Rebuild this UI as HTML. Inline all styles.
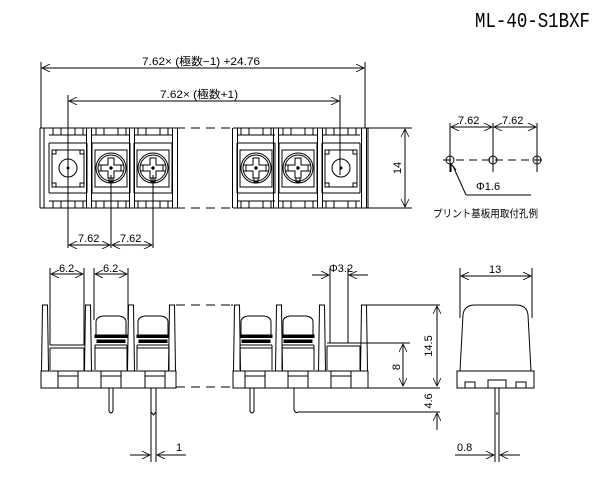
<!DOCTYPE html>
<html><head><meta charset="utf-8"><style>
html,body{margin:0;padding:0;background:#fff;width:600px;height:487px;overflow:hidden}
svg text{font-family:"Liberation Sans","Noto Sans CJK JP",sans-serif;fill:#000}
</style></head><body>
<svg width="600" height="487" viewBox="0 0 600 487" xmlns="http://www.w3.org/2000/svg">
<defs>
<marker id="a" viewBox="0 0 10 10" refX="10" refY="5" markerWidth="10" markerHeight="8" orient="auto-start-reverse" markerUnits="userSpaceOnUse"><path d="M0,0 L10,5 L0,10" fill="none" stroke="#000" stroke-width="1"/></marker>
<g id="sc">
<rect x="-16" y="150" width="32" height="37" fill="none"/>
<circle cx="0" cy="168" r="15" fill="none"/>
<circle cx="0" cy="168" r="13" fill="none"/>
<path d="M-13,165 H13 M-13,171 H13" fill="none"/>
<path d="M-3,158 H3 V165 H10 V171 H3 V178 H-3 V171 H-10 V165 H-3 Z" fill="#fff"/>
<circle cx="0" cy="168" r="1.2" fill="#000"/>
<path d="M-2,178 V182 H2 V178" fill="none"/>
</g>
<g id="mh">
<rect x="-16" y="150" width="32" height="37" fill="none"/>
<path d="M-16,154 h4 v-4 M16,154 h-4 v-4 M-16,183 h4 v4 M16,183 h-4 v4" fill="none"/>
<circle cx="0" cy="168" r="9" fill="none"/>
<circle cx="0" cy="168" r="1" fill="#000"/>
</g>
<g id="sep">
<path d="M-2.5,128 V208 M2.5,128 V208"/>
</g>
<g id="cellT">
<path d="M-19,135 H19 M-19,143 H19 M-19,193 H19 M-19,201 H19 M-15,128 V135 M-7,128 V135 M7,128 V135 M15,128 V135 M-15,201 V208 M-7,201 V208 M7,201 V208 M15,201 V208 M-19,143 V193 M19,143 V193" fill="none"/>
</g>
<g id="sscr">
<path d="M-15,335 V322 Q-15,317 -8,316 H8 Q15,317 15,322 V335 Z" fill="#fff"/>
<rect x="-16" y="335" width="32" height="2.5" fill="#000"/>
<rect x="-14" y="340" width="28" height="2.5" fill="#000"/>
<path d="M-16,345 H16 M-16,348 H16 M-16,345 V370 M16,345 V370" fill="none"/>
</g>
<g id="post"><path d="M-3.5,371 L-2.5,305 H2.5 L3.5,371" fill="none"/></g>
</defs>

<text x="475" y="27" style="font-family:'Liberation Mono',monospace;font-size:21px" textLength="115" lengthAdjust="spacingAndGlyphs">ML-40-S1BXF</text>

<g stroke="#000" stroke-width="1" fill="none">
<line x1="41" y1="62" x2="41" y2="128"/><line x1="365" y1="62" x2="365" y2="128"/>
<line x1="42" y1="68" x2="364" y2="68" marker-start="url(#a)" marker-end="url(#a)"/>
<line x1="68" y1="95" x2="68" y2="175"/><line x1="340" y1="95" x2="340" y2="175"/>
<line x1="69" y1="101" x2="339" y2="101" marker-start="url(#a)" marker-end="url(#a)"/>

<path d="M40,128 H176 M40,208 H176 M40,128 V208 M44,128 V208"/>
<path d="M176,128 H233 M176,208 H233" stroke-dasharray="9,6"/>
<path d="M233,128 H368 M233,208 H368"/>
<use href="#sep" x="89"/><use href="#sep" x="132"/><use href="#sep" x="175"/>
<use href="#sep" x="235"/><use href="#sep" x="276"/><use href="#sep" x="320"/><use href="#sep" x="364"/>
<use href="#cellT" x="68"/><use href="#cellT" x="111"/><use href="#cellT" x="153"/>
<use href="#cellT" x="256"/><use href="#cellT" x="298"/><use href="#cellT" x="341"/>
<use href="#mh" x="68"/><use href="#sc" x="111"/><use href="#sc" x="153"/>
<use href="#sc" x="256"/><use href="#sc" x="298"/><use href="#mh" x="341"/>
<line x1="368" y1="128" x2="368" y2="208"/>
<line x1="368" y1="128" x2="412" y2="128"/><line x1="368" y1="208" x2="412" y2="208"/>
<line x1="405" y1="129" x2="405" y2="207" marker-start="url(#a)" marker-end="url(#a)"/>
<line x1="111" y1="175" x2="111" y2="248"/><line x1="153" y1="175" x2="153" y2="248"/><line x1="68" y1="175" x2="68" y2="248"/>
<line x1="69" y1="245" x2="110" y2="245" marker-start="url(#a)" marker-end="url(#a)"/>
<line x1="112" y1="245" x2="152" y2="245" marker-start="url(#a)" marker-end="url(#a)"/>

<line x1="450" y1="123" x2="450" y2="172"/><line x1="493" y1="123" x2="493" y2="172"/><line x1="537" y1="123" x2="537" y2="172"/>
<line x1="451" y1="127" x2="492" y2="127" marker-start="url(#a)" marker-end="url(#a)"/>
<line x1="494" y1="127" x2="536" y2="127" marker-start="url(#a)" marker-end="url(#a)"/>
<line x1="443" y1="160" x2="544" y2="160" stroke-dasharray="8,5"/>
<circle cx="450" cy="160" r="4"/><circle cx="493" cy="160" r="4"/><circle cx="537" cy="160" r="4"/>
<path d="M466,195 L453,166 M531,195 H466"/>
<path d="M451,164 l0,8 M451,164 l5,6" />

<line x1="50" y1="268" x2="50" y2="345"/><line x1="84" y1="268" x2="84" y2="345"/>
<line x1="51" y1="274" x2="83" y2="274" marker-start="url(#a)" marker-end="url(#a)"/>
<line x1="94" y1="268" x2="94" y2="320"/><line x1="128" y1="268" x2="128" y2="320"/>
<line x1="95" y1="274" x2="127" y2="274" marker-start="url(#a)" marker-end="url(#a)"/>
<use href="#post" x="45"/><use href="#post" x="88"/><use href="#post" x="131"/><use href="#post" x="172"/>
<path d="M176,305 H233 M176,387 H233" stroke-dasharray="9,6"/>
<path d="M50,345 H84 M50,348 H84 M50,348 V370 M84,348 V370"/>
<use href="#sscr" x="111"/><use href="#sscr" x="153"/>
<rect x="41" y="371" width="135" height="17"/>
<rect x="58" y="376" width="20" height="12"/><rect x="101" y="376" width="20" height="12"/><rect x="145" y="376" width="20" height="12"/>
<path d="M58,371 V376 M78,371 V376 M101,371 V376 M121,371 V376 M145,371 V376 M165,371 V376"/>
<path d="M109,388 V411 Q111,415 113,411 V388"/>
<path d="M151,388 V462 M156,388 V462 M151,412 L153.5,415 L156,412"/>
<line x1="130" y1="455" x2="150" y2="455" marker-end="url(#a)"/>
<line x1="180" y1="455" x2="157" y2="455" marker-end="url(#a)"/>
<line x1="180" y1="455" x2="186" y2="455"/>

<use href="#post" x="237"/><use href="#post" x="279"/><use href="#post" x="322"/><use href="#post" x="364"/>
<path d="M231,305 H233 M367,305 H440"/>
<use href="#sscr" x="256"/><use href="#sscr" x="298"/>
<path d="M327,343 H360 M327,346 H360 M327,346 V370 M360,346 V370 M360,343 H410"/>
<line x1="330" y1="268" x2="330" y2="343"/><line x1="348" y1="268" x2="348" y2="343"/>
<line x1="312" y1="275" x2="329" y2="275" marker-end="url(#a)"/>
<line x1="368" y1="275" x2="349" y2="275" marker-end="url(#a)"/>
<rect x="233" y="371" width="135" height="17"/>
<rect x="245" y="376" width="20" height="12"/><rect x="288" y="376" width="20" height="12"/><rect x="331" y="376" width="20" height="12"/>
<path d="M245,371 V376 M265,371 V376 M288,371 V376 M308,371 V376 M331,371 V376 M351,371 V376"/>
<path d="M250,388 V411 Q252,415 254,411 V388"/>
<path d="M294,388 V410 Q296,414 298,412 H440"/>
<path d="M368,388 H440"/>
<line x1="437" y1="306" x2="437" y2="386" marker-start="url(#a)" marker-end="url(#a)"/>
<line x1="403" y1="344" x2="403" y2="386" marker-start="url(#a)" marker-end="url(#a)"/>
<line x1="437" y1="430" x2="437" y2="413" marker-end="url(#a)"/>

<path d="M460,371 L463,315 Q464,305 475,305 H516 Q527,305 528,315 L531,371 Z"/>
<rect x="457" y="371" width="77" height="17"/>
<path d="M465,388 V382 H475 V388 M516,388 V382 H526 V388"/>
<rect x="488" y="380" width="18" height="8"/>
<line x1="460" y1="268" x2="460" y2="318"/><line x1="532" y1="268" x2="532" y2="318"/>
<line x1="461" y1="276" x2="531" y2="276" marker-start="url(#a)" marker-end="url(#a)"/>
<path d="M495,388 V462 M499,388 V462 M497,412 V415"/>
<line x1="455" y1="455" x2="494" y2="455" marker-end="url(#a)"/>
<line x1="520" y1="455" x2="500" y2="455" marker-end="url(#a)"/>
</g>

<g style="font-size:11px">
<text x="142" y="65" textLength="118" lengthAdjust="spacingAndGlyphs">7.62× (極数−1) +24.76</text>
<text x="160" y="98" textLength="78" lengthAdjust="spacingAndGlyphs">7.62× (極数+1)</text>
<text x="78" y="242">7.62</text><text x="120" y="242">7.62</text>
<text x="458" y="124">7.62</text><text x="502" y="124">7.62</text>
<text x="476" y="190">Φ1.6</text>
<text x="433" y="217" style="font-size:10.5px" textLength="105" lengthAdjust="spacingAndGlyphs">プリント基板用取付孔例</text>
<text x="59" y="272">6.2</text><text x="103" y="272">6.2</text>
<text x="329" y="272">Φ3.2</text>
<text x="489" y="273">13</text>
<text x="176" y="451">1</text>
<text x="457" y="451">0.8</text>
<text transform="translate(432,346) rotate(-90)" text-anchor="middle">14.5</text>
<text transform="translate(400,367) rotate(-90)" text-anchor="middle">8</text>
<text transform="translate(432,401) rotate(-90)" text-anchor="middle">4.6</text>
<text transform="translate(401,168) rotate(-90)" text-anchor="middle">14</text>
</g>
</svg>
</body></html>
